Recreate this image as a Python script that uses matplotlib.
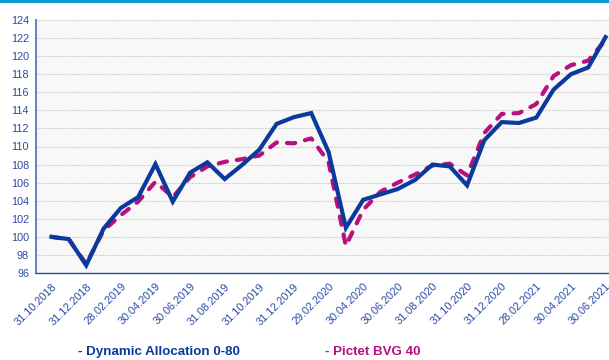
import matplotlib.pyplot as plt
from matplotlib.lines import Line2D

# month-end index values, 31.10.2018 .. 30.06.2021
dynamic_80 = [100.0, 99.75, 96.85, 100.9, 103.2, 104.4, 108.05, 103.9, 107.1, 108.25,
              106.4, 107.95, 109.65, 112.5, 113.25, 113.7, 109.4, 101.0, 104.1, 104.7,
              105.3, 106.3, 108.0, 107.8, 105.7, 110.7, 112.7, 112.6, 113.2, 116.3,
              118.0, 118.75, 122.1]
pictet_bvg40 = [100.0, 99.7, 97.0, 100.7, 102.4, 103.9, 106.1, 104.4, 106.6, 107.8,
                108.3, 108.6, 109.0, 110.45, 110.35, 110.9, 108.3, 99.0, 103.0, 105.0,
                106.0, 106.9, 107.9, 108.1, 106.8, 111.5, 113.6, 113.7, 114.7, 117.8,
                119.0, 119.5, 121.8]
date_labels = ['31.10.2018', '31.12.2018', '28.02.2019', '30.04.2019', '30.06.2019',
               '31.08.2019', '31.10.2019', '31.12.2019', '29.02.2020', '30.04.2020',
               '30.06.2020', '31.08.2020', '31.10.2020', '31.12.2020', '28.02.2021',
               '30.04.2021', '30.06.2021']
y_ticks = list(range(96, 125, 2))

navy = '#0b3a9c'
magenta = '#b8107e'
tick_col = '#2a4aa6'

plt.rcParams['font.family'] = ['Liberation Sans', 'DejaVu Sans']

fig = plt.figure(figsize=(6.09, 3.6), dpi=100)
ax = fig.add_axes([36 / 609, 87 / 360, 573 / 609, 253 / 360])
ax.set_facecolor('#f8f8f8')

x = list(range(len(dynamic_80)))
ax.plot(x, dynamic_80, color=navy, lw=3.0, solid_joinstyle='miter', zorder=3)
ax.plot(x, pictet_bvg40, color=magenta, lw=3.0, linestyle=(0, (2.0, 2.4)),
        dash_capstyle='round', zorder=2)

ax.set_xlim(-0.9, 32.2)
ax.set_ylim(96, 124)
ax.set_yticks(y_ticks)
ax.set_xticks(x[::2])
ax.set_xticklabels(date_labels, rotation=45, ha='right', va='top',
                   rotation_mode='anchor')
ax.tick_params(axis='both', length=0, colors=tick_col, labelsize=7.8)
ax.tick_params(axis='x', pad=6)
ax.tick_params(axis='y', pad=5)

ax.grid(axis='y', color='#c4c4c4', linestyle=(0, (1, 1)), lw=0.8)
ax.set_axisbelow(True)
for s in ['top', 'right']:
    ax.spines[s].set_visible(False)
ax.spines['left'].set_color('#6d85c8')
ax.spines['left'].set_linewidth(1.5)
ax.spines['bottom'].set_color('#1f4fb0')
ax.spines['bottom'].set_linewidth(1.0)

# thin accent bar along the top edge
fig.add_artist(Line2D([0, 1], [0.997, 0.997], transform=fig.transFigure,
                      color='#0a9ad2', lw=2.2))

fig.text(78 / 609, 8 / 360, '- Dynamic Allocation 0-80', color=navy,
         fontsize=9.6, fontweight='bold', va='center', ha='left')
fig.text(325 / 609, 8 / 360, '- Pictet BVG 40', color=magenta,
         fontsize=9.6, fontweight='bold', va='center', ha='left')

fig.savefig('out.png', dpi=100)
